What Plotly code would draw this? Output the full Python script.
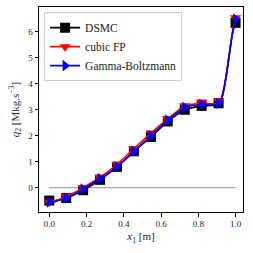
import plotly.graph_objects as go

x_pts = [0.0, 0.0909, 0.1818, 0.2727, 0.3636, 0.4545, 0.5455, 0.6364, 0.7273, 0.8182, 0.9091, 1.0]
dsmc = [-0.50, -0.40, -0.10, 0.30, 0.80, 1.40, 1.95, 2.55, 3.00, 3.15, 3.25, 6.35]
cubic = [-0.55, -0.32, 0.00, 0.40, 0.90, 1.50, 2.10, 2.65, 3.15, 3.30, 3.35, 6.55]
gamma = [-0.55, -0.40, -0.05, 0.35, 0.80, 1.40, 2.00, 2.60, 3.10, 3.20, 3.25, 6.50]

# line samples (lines are drawn more densely than the markers)
x_line = [0.0, 0.0909, 0.1818, 0.2727, 0.3636, 0.4545, 0.5455, 0.6364, 0.7273, 0.8182, 0.9091, 0.93, 0.95, 0.97, 0.985, 1.0]
dsmc_line = [-0.55, -0.40, -0.10, 0.30, 0.80, 1.40, 1.95, 2.55, 3.00, 3.15, 3.20, 3.55, 4.30, 5.30, 6.00, 6.40]
cubic_line = [-0.60, -0.35, 0.00, 0.40, 0.90, 1.50, 2.10, 2.65, 3.15, 3.25, 3.25, 3.60, 4.35, 5.35, 6.05, 6.50]
gamma_line = [-0.60, -0.40, -0.05, 0.35, 0.80, 1.40, 2.00, 2.60, 3.10, 3.20, 3.20, 3.55, 4.30, 5.30, 6.00, 6.45]

zero_x = [0.0, 1.0]
zero_y = [0.0, 0.0]

series = [
    ("DSMC", dsmc, dsmc_line, "black", "square"),
    ("cubic FP", cubic, cubic_line, "red", "triangle-down"),
    ("Gamma-Boltzmann", gamma, gamma_line, "blue", "triangle-right"),
]

fig = go.Figure()
fig.add_trace(go.Scatter(x=zero_x, y=zero_y, mode="lines",
                         line=dict(color="#a8a8a8", width=1.2), showlegend=False))
for name, ys, yl, col, sym in series:
    fig.add_trace(go.Scatter(x=x_line, y=yl, mode="lines", line=dict(color=col, width=1.6, shape="spline", smoothing=0.6),
                             showlegend=False, hoverinfo="skip"))
    fig.add_trace(go.Scatter(x=x_pts, y=ys, mode="markers",
                             marker=dict(color=col, symbol=sym, size=10, line=dict(width=0)),
                             showlegend=False))
for name, ys, yl, col, sym in series:
    fig.add_trace(go.Scatter(x=[None], y=[None], mode="lines+markers", name=name,
                             line=dict(color=col, width=1.6),
                             marker=dict(color=col, symbol=sym, size=10, line=dict(width=0))))

font = dict(family="Liberation Serif, DejaVu Serif, serif", size=9, color="#222")
fig.update_layout(
    width=253, height=253,
    margin=dict(l=39, r=10, t=7, b=41),
    paper_bgcolor="white", plot_bgcolor="white",
    font=font,
    legend=dict(x=0.025, y=0.975, xanchor="left", yanchor="top",
                bgcolor="rgba(255,255,255,0.85)", bordercolor="#cccccc", borderwidth=1,
                font=dict(family="Liberation Serif, DejaVu Serif, serif", size=11.5, color="#222"),
                itemwidth=30, tracegroupgap=0),
)
fig.update_xaxes(range=[-0.055, 1.04], tickvals=[0, 0.2, 0.4, 0.6, 0.8, 1.0],
                 ticktext=["0.0", "0.2", "0.4", "0.6", "0.8", "1.0"], automargin=False,
                 showgrid=False, zeroline=False, showline=True, linecolor="black", linewidth=1,
                 mirror=True, ticks="outside", ticklen=3.5, tickcolor="black",
                 title=dict(text="<i>x</i><sub>1</sub> [m]", standoff=4))
fig.update_yaxes(range=[-0.94, 6.96], tickvals=[0, 1, 2, 3, 4, 5, 6], automargin=False,
                 showgrid=False, zeroline=False, showline=True, linecolor="black", linewidth=1,
                 mirror=True, ticks="outside", ticklen=3.5, tickcolor="black",
                 title=dict(text="<i>q</i><sub>2</sub> [Mkg.s<sup>−3</sup>]", standoff=6))

fig.write_html("out.html", config={"displayModeBar": False},
               post_script="document.body.style.margin='0';document.body.style.overflow='hidden';")
